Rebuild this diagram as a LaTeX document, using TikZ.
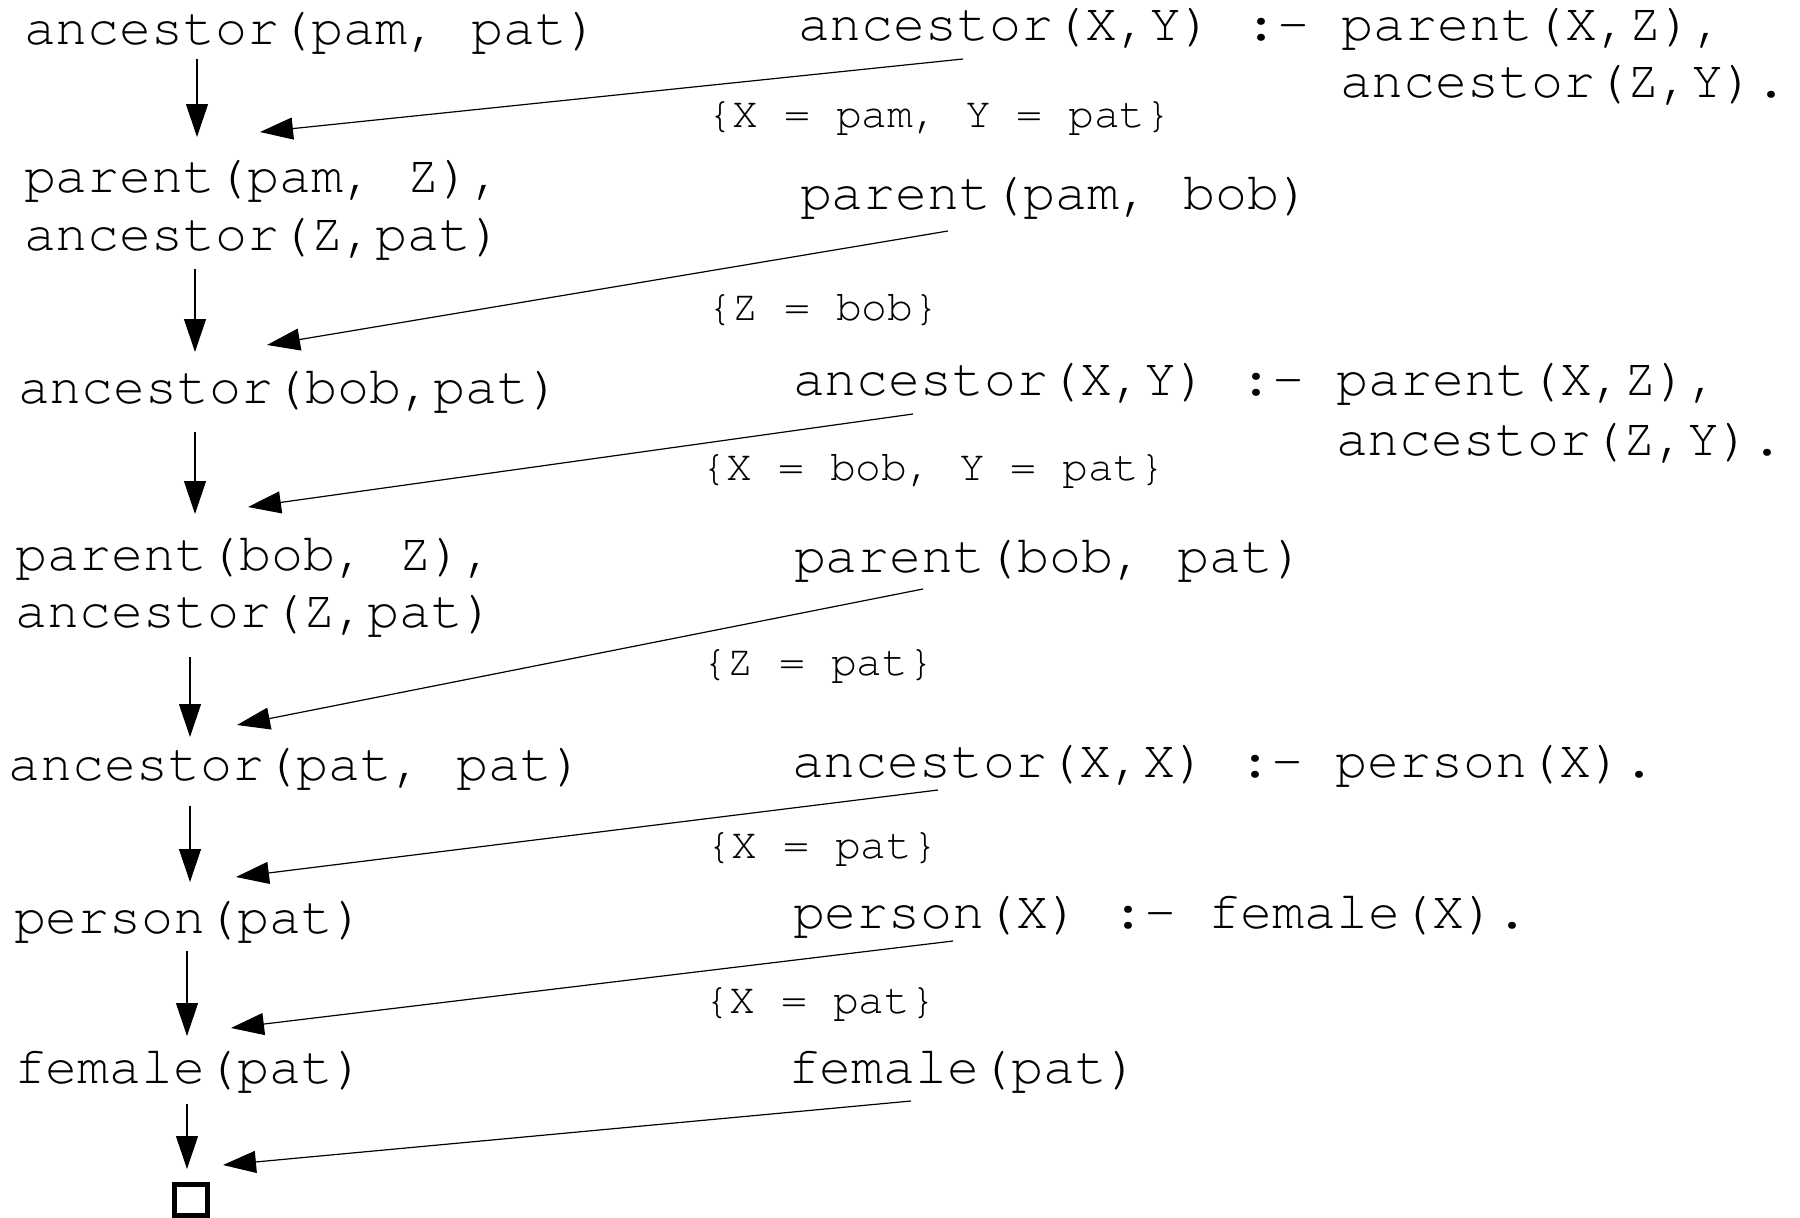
\documentclass[tikz,border=0pt]{standalone}
\usepackage{fontspec}
\usetikzlibrary{arrows.meta}
\newfontfamily\progfont{texgyrecursor-regular.otf}
\begin{document}
\begin{tikzpicture}[x=1pt,y=-1pt,
  term/.style={anchor=base west, inner sep=0pt, outer sep=0pt, font=\progfont\fontsize{53.3}{60}\selectfont},
  subst/.style={anchor=base west, inner sep=0pt, outer sep=0pt, font=\progfont\fontsize{43}{50}\selectfont},
  flow/.style={line width=1.2pt, -{Triangle[length=33pt,width=22pt]}},
  emptybox/.style={draw, line width=4.5pt, inner sep=0pt, minimum width=33pt, minimum height=31pt}
]
\useasboundingbox (0,0) rectangle (1800,1218);

% left column (goals)
\node[term] (l1)  at (24,44)   {ancestor(pam, pat)};
\node[term] (l2a) at (24,192)  {parent(pam, Z),};
\node[term] (l2b) at (24,250)  {ancestor(Z,pat)};
\node[term] (l3)  at (18,403)  {ancestor(bob,pat)};
\node[term] (l4a) at (16,570)  {parent(bob, Z),};
\node[term] (l4b) at (16,627)  {ancestor(Z,pat)};
\node[term] (l5)  at (9,780)   {ancestor(pat, pat)};
\node[term] (l6)  at (14,933)  {person(pat)};
\node[term] (l7)  at (14,1083) {female(pat)};
\node[emptybox] (done) at (191,1200) {};

% right column (clauses)
\node[term] (r1)  at (798,40)   {ancestor(X,Y) :- parent(X,Z),};
\node[term] (r1b) at (1340,97)  {ancestor(Z,Y).};
\node[term] (r2)  at (800,209)  {parent(pam, bob)};
\node[term] (r3)  at (793,395)  {ancestor(X,Y) :- parent(X,Z),};
\node[term] (r3b) at (1336,455) {ancestor(Z,Y).};
\node[term] (r4)  at (794,572)  {parent(bob, pat)};
\node[term] (r5)  at (792,777)  {ancestor(X,X) :- person(X).};
\node[term] (r6)  at (793,928)  {person(X) :- female(X).};
\node[term] (r7)  at (788,1083) {female(pat)};

% substitutions
\node[subst] (s1) at (707,127)  {\{X = pam, Y = pat\}};
\node[subst] (s2) at (707,320)  {\{Z = bob\}};
\node[subst] (s3) at (701,480)  {\{X = bob, Y = pat\}};
\node[subst] (s4) at (702,675)  {\{Z = pat\}};
\node[subst] (s5) at (706,858)  {\{X = pat\}};
\node[subst] (s6) at (704,1013) {\{X = pat\}};

% connector end points
\coordinate (v1s) at (197,59);   \coordinate (v1e) at (197,137);
\coordinate (v2s) at (195,269);  \coordinate (v2e) at (195,352);
\coordinate (v3s) at (195,432);  \coordinate (v3e) at (195,514);
\coordinate (v4s) at (190,657);  \coordinate (v4e) at (190,737);
\coordinate (v5s) at (190,806);  \coordinate (v5e) at (190,882);
\coordinate (v6s) at (187,951);  \coordinate (v6e) at (187,1036);
\coordinate (v7s) at (187,1104); \coordinate (v7e) at (187,1169);

\coordinate (d1s) at (963,59);   \coordinate (d1e) at (260,132);
\coordinate (d2s) at (948,231);  \coordinate (d2e) at (267,345);
\coordinate (d3s) at (913,414);  \coordinate (d3e) at (248,507);
\coordinate (d4s) at (923,589);  \coordinate (d4e) at (237,725);
\coordinate (d5s) at (938,790);  \coordinate (d5e) at (236,877);
\coordinate (d6s) at (953,941);  \coordinate (d6e) at (231,1028);
\coordinate (d7s) at (911,1101); \coordinate (d7e) at (223,1165);

\foreach \i in {1,...,7} {
  \draw[flow] (v\i s) -- (v\i e);
  \draw[flow] (d\i s) -- (d\i e);
}
\end{tikzpicture}
\end{document}
